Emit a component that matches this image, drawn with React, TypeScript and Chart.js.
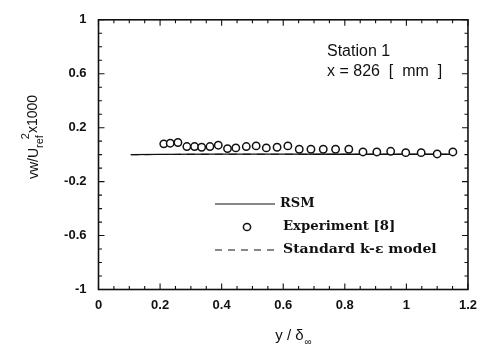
import React, { useEffect, useRef } from "react";
import { Chart, registerables } from "chart.js";

Chart.register(...registerables);

const expX = [0.212, 0.233, 0.258, 0.287, 0.312, 0.335, 0.362, 0.389, 0.419, 0.446, 0.48, 0.512, 0.545, 0.58, 0.615, 0.652, 0.69, 0.73, 0.77, 0.813, 0.859, 0.904, 0.949, 0.998, 1.048, 1.1, 1.151];
const expY = [0.08, 0.085, 0.09, 0.06, 0.06, 0.055, 0.06, 0.07, 0.045, 0.05, 0.06, 0.065, 0.05, 0.055, 0.065, 0.04, 0.04, 0.04, 0.04, 0.04, 0.02, 0.02, 0.025, 0.015, 0.015, 0.005, 0.02];
const rsmX = [0.105, 0.2, 0.4, 0.6, 0.8, 1.0, 1.15];
const rsmY = [0.0, 0.002, 0.004, 0.004, 0.003, 0.003, 0.003];
const keX = [0.105, 0.2, 0.4, 0.6, 0.8, 1.0, 1.15];
const keY = [0.0, 0.001, 0.003, 0.003, 0.002, 0.002, 0.002];
const xTicks = [0, 0.2, 0.4, 0.6, 0.8, 1, 1.2];
const yTicks = [-1, -0.6, -0.2, 0.2, 0.6, 1];
const legendLabels = ["RSM", "Experiment [8]", "Standard k-ε model"];
const stationLines = ["Station 1", "x = 826  [  mm  ]"];

const SANS = "'Liberation Sans', Arial, sans-serif";
const SERIF = "'DejaVu Serif', serif";

function wideText(ctx: any, text: string, x: number, y: number, sx: number) {
  ctx.save();
  ctx.translate(x, y);
  ctx.scale(sx, 1);
  ctx.fillText(text, 0, 0);
  ctx.restore();
}

const decorPlugin = {
  id: "decor",
  afterDatasetsDraw(chart: any) {
    const { ctx, chartArea: a, scales } = chart;
    const xs = scales.x;
    const ys = scales.y;
    ctx.save();
    ctx.strokeStyle = "#111";
    ctx.fillStyle = "#111";
    ctx.lineWidth = 1.6;
    ctx.strokeRect(a.left, a.top, a.right - a.left, a.bottom - a.top);
    ctx.lineWidth = 1.1;
    for (let i = 0; i <= 24; i++) {
      const v = i * 0.05;
      const px = xs.getPixelForValue(v);
      const len = i % 4 === 0 ? 6 : 3.5;
      ctx.beginPath();
      ctx.moveTo(px, a.bottom);
      ctx.lineTo(px, a.bottom - len);
      ctx.moveTo(px, a.top);
      ctx.lineTo(px, a.top + len);
      ctx.stroke();
    }
    for (let i = 0; i <= 20; i++) {
      const v = -1 + i * 0.1;
      const py = ys.getPixelForValue(v);
      const len = i % 4 === 0 ? 6 : 3.5;
      ctx.beginPath();
      ctx.moveTo(a.left, py);
      ctx.lineTo(a.left + len, py);
      ctx.moveTo(a.right, py);
      ctx.lineTo(a.right - len, py);
      ctx.stroke();
    }

    // station annotation
    ctx.font = `16px ${SANS}`;
    ctx.textBaseline = "middle";
    ctx.textAlign = "left";
    ctx.fillText(stationLines[0], 327, 52);
    ctx.fillText(stationLines[1], 327, 72);

    // legend
    ctx.lineWidth = 1.2;
    ctx.beginPath();
    ctx.moveTo(215, 204);
    ctx.lineTo(275, 204);
    ctx.stroke();
    ctx.beginPath();
    ctx.fillStyle = "#fff";
    ctx.lineWidth = 1.5;
    ctx.arc(247, 227, 3.6, 0, Math.PI * 2);
    ctx.fill();
    ctx.stroke();
    ctx.fillStyle = "#111";
    ctx.lineWidth = 1.2;
    ctx.setLineDash([7, 6]);
    ctx.beginPath();
    ctx.moveTo(215, 250);
    ctx.lineTo(280, 250);
    ctx.stroke();
    ctx.setLineDash([]);
    ctx.font = `bold 13px ${SERIF}`;
    wideText(ctx, legendLabels[0], 280, 204, 1.0);
    wideText(ctx, legendLabels[1], 283, 227, 1.02);
    wideText(ctx, legendLabels[2], 283, 250, 1.08);

    // y title
    ctx.save();
    ctx.translate(38, 137);
    ctx.rotate(-Math.PI / 2);
    ctx.textBaseline = "alphabetic";
    const big = `14px ${SANS}`;
    const small = `11px ${SANS}`;
    ctx.font = big;
    const w1 = ctx.measureText("vw/U").width;
    const w4 = ctx.measureText("x1000").width;
    ctx.font = small;
    const w2 = ctx.measureText("ref").width;
    const w3 = ctx.measureText("2").width;
    const total = w1 + w2 + 2 + w4;
    let x = -total / 2;
    ctx.font = big;
    ctx.fillText("vw/U", x, 0);
    x += w1;
    ctx.font = small;
    ctx.fillText("ref", x, 5);
    ctx.fillText("2", x + w2 - w3 + 2, -9);
    x += w2 + 2;
    ctx.font = big;
    ctx.fillText("x1000", x, -1);
    ctx.restore();

    // x title
    ctx.textBaseline = "alphabetic";
    ctx.font = `15px ${SANS}`;
    const t = "y / δ";
    const tw = ctx.measureText(t).width;
    ctx.font = `10px ${SANS}`;
    const sw = ctx.measureText("∞").width;
    const sx = 293 - (tw + sw) / 2;
    ctx.font = `15px ${SANS}`;
    ctx.fillText(t, sx, 340);
    ctx.font = `10px ${SANS}`;
    ctx.fillText("∞", sx + tw + 1, 345);
    ctx.restore();
  },
};

export default function App() {
  const ref = useRef<HTMLCanvasElement>(null);
  useEffect(() => {
    document.body.style.margin = "0";
    const chart = new Chart(ref.current as HTMLCanvasElement, {
      type: "scatter",
      data: {
        datasets: [
          {
            label: legendLabels[1],
            data: expX.map((x, i) => ({ x, y: expY[i] })),
            showLine: false,
            pointStyle: "circle",
            pointRadius: 3.7,
            pointBorderWidth: 1.5,
            borderColor: "#111",
            backgroundColor: "#fff",
            order: 0,
          },
          {
            label: legendLabels[0],
            data: rsmX.map((x, i) => ({ x, y: rsmY[i] })),
            showLine: true,
            pointRadius: 0,
            borderColor: "#111",
            borderWidth: 1.3,
            order: 2,
          },
          {
            label: legendLabels[2],
            data: keX.map((x, i) => ({ x, y: keY[i] })),
            showLine: true,
            pointRadius: 0,
            borderColor: "#111",
            borderWidth: 1.1,
            borderDash: [8, 6],
            order: 1,
          },
        ],
      },
      options: {
        animation: false,
        responsive: false,
        layout: { padding: { top: 12, right: 15, left: 0, bottom: 0 } },
        plugins: { legend: { display: false }, tooltip: { enabled: false } },
        scales: {
          x: {
            type: "linear",
            min: 0,
            max: 1.2,
            afterBuildTicks: (s: any) => {
              s.ticks = xTicks.map((v) => ({ value: v }));
            },
            afterFit: (s: any) => {
              s.height = 59.5;
            },
            grid: { display: false, drawTicks: false },
            border: { display: false },
            ticks: {
              padding: 8,
              color: "#111",
              font: { family: SANS, size: 13, weight: "bold" },
              maxRotation: 0,
              callback: (v: any) => String(Number(v)),
            },
          },
          y: {
            type: "linear",
            min: -1,
            max: 1,
            afterBuildTicks: (s: any) => {
              s.ticks = yTicks.map((v) => ({ value: v }));
            },
            afterFit: (s: any) => {
              s.width = 98.5;
            },
            grid: { display: false, drawTicks: false },
            border: { display: false },
            ticks: {
              padding: 12,
              color: "#111",
              font: { family: SANS, size: 13, weight: "bold" },
              callback: (v: any) => String(Number(v)),
            },
          },
        },
      },
      plugins: [decorPlugin],
    });
    return () => chart.destroy();
  }, []);
  return (
    <div style={{ width: 485, height: 349, background: "#fff" }}>
      <canvas ref={ref} width={485} height={349} />
    </div>
  );
}
